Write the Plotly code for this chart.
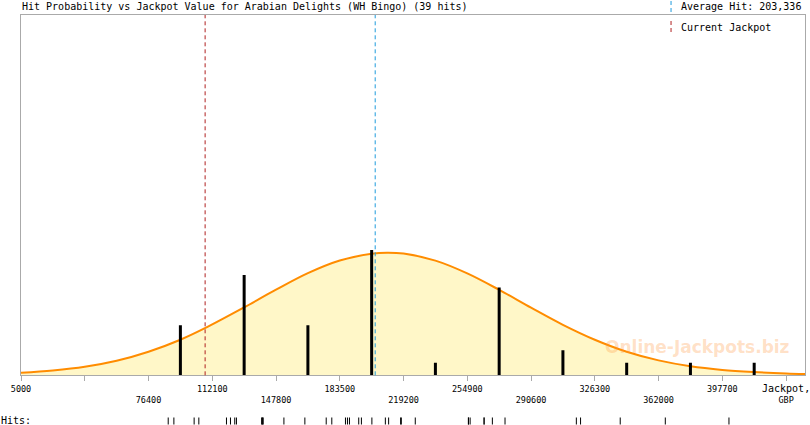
import plotly.graph_objects as go

# ---------------- data ----------------
title_text = "Hit Probability vs Jackpot Value for Arabian Delights (WH Bingo) (39 hits)"
average_hit = 203336
current_jackpot = 108100

tick_values = [5000, 40700, 76400, 112100, 147800, 183500, 219200,
               254900, 290600, 326300, 362000, 397700, 433400]
tick_labels = ["5000", "", "<br>76400", "112100", "<br>147800", "183500", "<br>219200",
               "254900", "<br>290600", "326300", "<br>362000", "397700",
               "<span style='font-size:10px'>Jackpot,</span><br>GBP"]

bin_centers = [94250, 129950, 165650, 201350, 237050, 272750, 308450, 344150, 379850, 415550]
hit_counts = [4, 8, 4, 10, 1, 7, 2, 1, 1, 1]

hits = [87430, 90610, 101950, 104580,
        120050, 122290, 124690, 125640, 139760, 140040, 140320, 140600,
        152220, 163950, 175900, 179030,
        186680, 187800, 188920, 194110, 195620, 201480, 209020, 210860, 217560, 217960,
        225770,
        255540, 255540, 256490, 264300, 264300, 268940, 276030,
        315970, 318320,
        340540, 365780, 401420]

curve_x = [5000, 22850, 40700, 58550, 76400, 94250, 108000, 129950, 147800, 165650,
           183500, 201350, 210000, 219200, 237050, 254900, 272750, 290600, 308450,
           326300, 344150, 362000, 379850, 397700, 415550, 433400, 444000]
curve_y = [0.21, 0.39, 0.68, 1.16, 1.88, 2.84, 3.76, 5.42, 6.83, 8.15,
           9.16, 9.70, 9.78, 9.71, 9.15, 8.13, 6.82, 5.40, 4.03,
           2.84, 1.88, 1.19, 0.72, 0.43, 0.26, 0.15, 0.11]

# ---------------- styling ----------------
MONO = "DejaVu Sans Mono"
GRAY = "#AAAAAA"
W, H = 810, 425
L, R, T, B = 21, 3, 15, 0
plot_h = H - T - B
plot_w = W - L - R


def py(pix_y):
    return (H - B - pix_y) / plot_h


def px(pix_x):
    return (pix_x - L) / plot_w


main_bottom = py(375.3)
rug_lo, rug_hi = py(424.5), py(417.5)

fig = go.Figure()

# Probability curve with fill
fig.add_trace(go.Scatter(
    x=curve_x, y=curve_y, mode="lines", line=dict(color="#FF8C00", width=2, shape="spline"),
    fill="tozeroy", fillcolor="#FFF7C8", hoverinfo="skip", showlegend=False))

# Hit count bars (drawn as thick vertical segments so they sit above the curve)
bx, by = [], []
for c, n in zip(bin_centers, hit_counts):
    bx += [c, c, None]
    by += [0, n, None]
fig.add_trace(go.Scatter(x=bx, y=by, mode="lines", line=dict(color="black", width=3),
                         hoverinfo="skip", showlegend=False))

# Rug of individual hits
fig.add_trace(go.Scatter(
    x=hits, y=[0] * len(hits), mode="markers", xaxis="x", yaxis="y2",
    marker=dict(symbol="line-ns", size=7, line=dict(width=1, color="black"), color="black"),
    hoverinfo="skip", showlegend=False))

RED = "#B02020"
BLUE = "#1E9BDC"
shapes = [
    dict(type="line", xref="x", yref="paper", x0=current_jackpot, x1=current_jackpot,
         y0=main_bottom, y1=1, line=dict(color=RED, width=1, dash="4px,3px"), layer="above"),
    dict(type="line", xref="x", yref="paper", x0=average_hit, x1=average_hit,
         y0=main_bottom, y1=1, line=dict(color=BLUE, width=1, dash="4px,3px"), layer="above"),
    # legend marks
    dict(type="line", xref="paper", yref="paper", x0=px(672.7), x1=px(672.7),
         y0=py(12), y1=py(0), line=dict(color=BLUE, width=1, dash="4px,3px")),
    dict(type="line", xref="paper", yref="paper", x0=px(672.7), x1=px(672.7),
         y0=py(32), y1=py(20), line=dict(color=RED, width=1, dash="4px,3px")),
]

annotations = [
    dict(text=title_text, xref="paper", yref="paper", x=px(20), y=py(7),
         xanchor="left", yanchor="middle", showarrow=False, font=dict(family=MONO, size=10, color="black")),
    dict(text="Average Hit: 203,336", xref="paper", yref="paper", x=px(681), y=py(7),
         xanchor="left", yanchor="middle", showarrow=False, font=dict(family=MONO, size=10, color="black")),
    dict(text="Current Jackpot", xref="paper", yref="paper", x=px(681), y=py(27),
         xanchor="left", yanchor="middle", showarrow=False, font=dict(family=MONO, size=10, color="black")),
    dict(text="Hits:", xref="paper", yref="paper", x=px(-1), y=py(420.5),
         xanchor="left", yanchor="middle", showarrow=False, font=dict(family=MONO, size=10, color="black")),
    dict(text="<b>Online-Jackpots.biz</b>", xref="paper", yref="paper", x=px(699), y=py(347),
         xanchor="center", yanchor="middle", showarrow=False,
         font=dict(family="DejaVu Sans", size=17, color="rgba(255,150,60,0.30)")),
]

fig.update_layout(
    width=W, height=H,
    margin=dict(l=L, r=R, t=T, b=B, pad=0),
    paper_bgcolor="white", plot_bgcolor="white",
    showlegend=False,
    xaxis=dict(range=[5000, 444000], tickmode="array", tickvals=tick_values, ticktext=tick_labels,
               showgrid=False, zeroline=False, showline=True, linecolor=GRAY, linewidth=1, mirror=True,
               ticks="outside", ticklen=5, tickcolor=GRAY, tickwidth=1, ticklabeloverflow="allow",
               tickfont=dict(family=MONO, size=8.5, color="black"), tickangle=0, anchor="y"),
    yaxis=dict(domain=[main_bottom, 1], range=[0, 28.75], showgrid=False, zeroline=False,
               showticklabels=False, ticks="", showline=True, linecolor=GRAY, linewidth=1, mirror=True),
    yaxis2=dict(domain=[rug_lo, rug_hi], range=[-1, 1], showgrid=False, zeroline=False,
                showticklabels=False, ticks="", showline=False, anchor="x"),
    shapes=shapes, annotations=annotations,
)

fig.write_html("out.html", config={"displayModeBar": False},
               post_script="document.body.style.margin='0';document.body.style.padding='0';"
                           "document.body.style.overflow='hidden';")
